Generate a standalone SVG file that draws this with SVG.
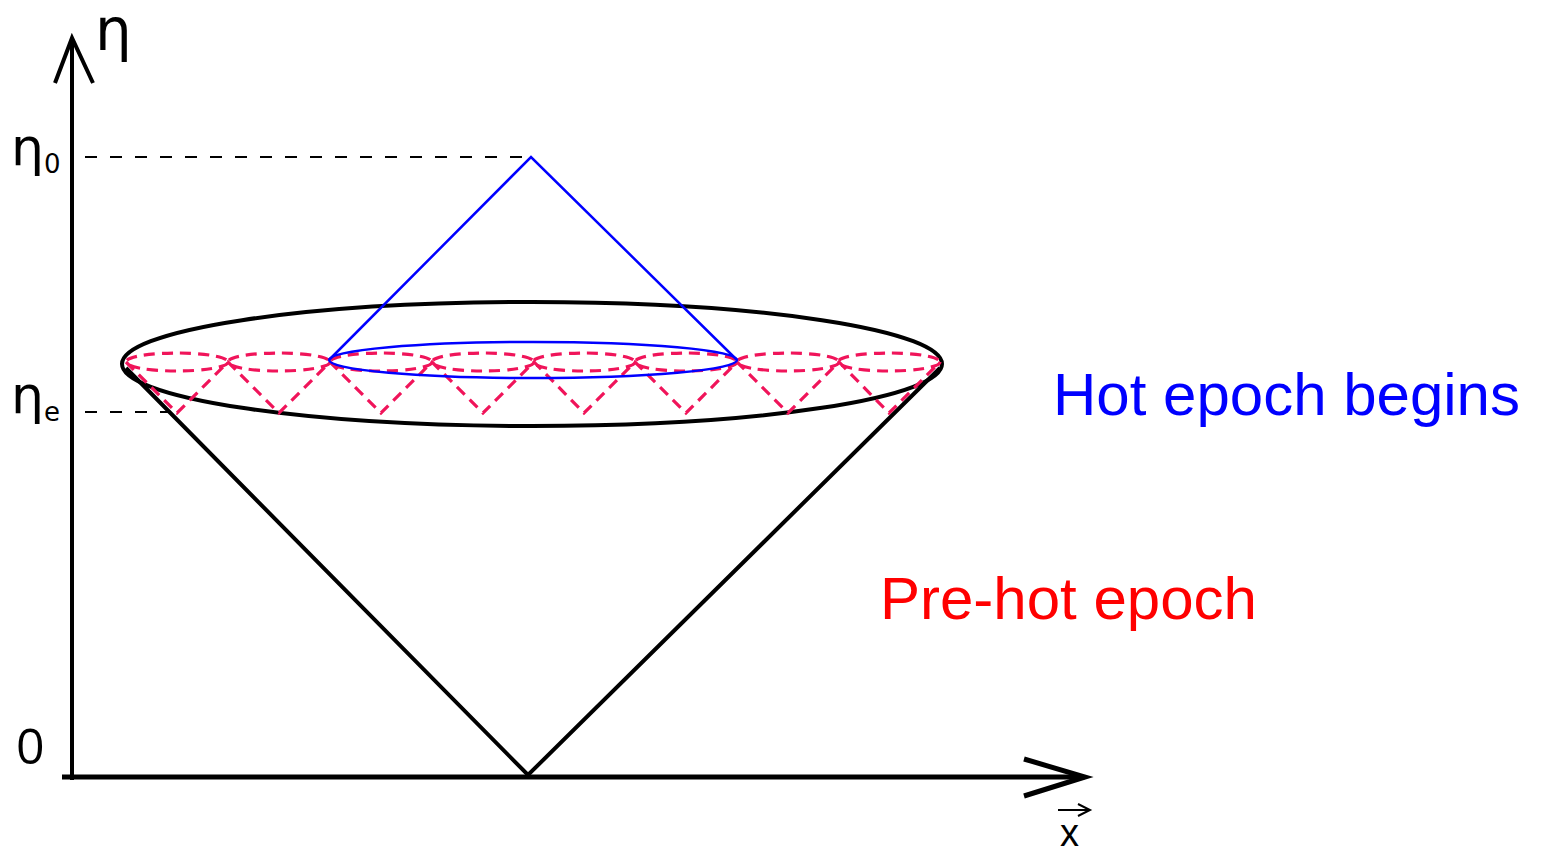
<svg xmlns="http://www.w3.org/2000/svg" width="1544" height="852" viewBox="0 0 1544 852">
<style>
.ax{stroke:#000;fill:none;stroke-linecap:butt}
.dash{stroke:#000;stroke-width:2;stroke-dasharray:12,13;fill:none}
.red{stroke:#f0145a;stroke-width:3.2;stroke-dasharray:11,7;fill:none}
.blue{stroke:#0000ff;stroke-width:2.5;fill:none}
.lbl{font-family:"DejaVu Sans",sans-serif;fill:#000}
</style>
<rect width="1544" height="852" fill="#fff"/>
<g id="axes">
<line class="ax" x1="72" y1="780" x2="72" y2="40" stroke-width="4"/>
<polyline class="ax" points="55,83 72,38 93,83" stroke-width="4"/>
<line class="ax" x1="62" y1="777" x2="1083" y2="777" stroke-width="5"/>
<polyline class="ax" points="1024,759 1085,777 1024,796" stroke-width="5"/>
</g>
<g id="labels">
<text class="lbl" x="95" y="50" font-size="58">η</text>
<text class="lbl" x="11" y="165" font-size="52">η<tspan font-size="26" dy="8">0</tspan></text>
<text class="lbl" x="11" y="413" font-size="52">η<tspan font-size="26" dy="8">e</tspan></text>
<text x="16" y="764" font-family="'Open Sans',sans-serif" font-size="50" fill="#000">0</text>
<text x="1060" y="846" font-family="'Liberation Sans',sans-serif" font-size="38" fill="#000">x</text>
<line x1="1058" y1="810" x2="1088" y2="810" stroke="#000" stroke-width="2"/>
<polyline points="1078,804 1090,810 1078,816" stroke="#000" stroke-width="2" fill="none"/>
<text id="hot" x="1053" y="415" font-family="'Liberation Sans',sans-serif" font-size="60" fill="#0000ff">Hot epoch begins</text>
<text id="prehot" x="880" y="619" font-family="'Liberation Sans',sans-serif" font-size="60" fill="#ff0000">Pre-hot epoch</text>
</g>
<g id="guides">
<line class="dash" x1="85" y1="157" x2="530" y2="157"/>
<line class="dash" x1="85" y1="412" x2="170" y2="412"/>
</g>
<g id="pre-hot-cone">
<ellipse cx="532" cy="364" rx="410" ry="62" stroke="#000" stroke-width="4" fill="none"/>
<polyline points="126,368 528,775 940,368" stroke="#000" stroke-width="4" fill="none"/>
</g>
<g id="small-cones">
<ellipse class="red" cx="177" cy="362" rx="51" ry="9"/>
<ellipse class="red" cx="279" cy="362" rx="51" ry="9"/>
<ellipse class="red" cx="381" cy="362" rx="51" ry="9"/>
<ellipse class="red" cx="483" cy="362" rx="51" ry="9"/>
<ellipse class="red" cx="584" cy="362" rx="51" ry="9"/>
<ellipse class="red" cx="686" cy="362" rx="51" ry="9"/>
<ellipse class="red" cx="788" cy="362" rx="51" ry="9"/>
<ellipse class="red" cx="889" cy="362" rx="51" ry="9"/>
<polyline class="red" points="126,362 177,413 228,362 279,413 330,362 381,413 432,362 483,413 534,362 584,413 635,362 686,413 737,362 788,413 839,362 889,413 940,362"/>
</g>
<g id="hot-cone">
<ellipse class="blue" cx="533" cy="360" rx="204" ry="18"/>
<polyline class="blue" points="329,360 531,157 737,360"/>
</g>
</svg>
